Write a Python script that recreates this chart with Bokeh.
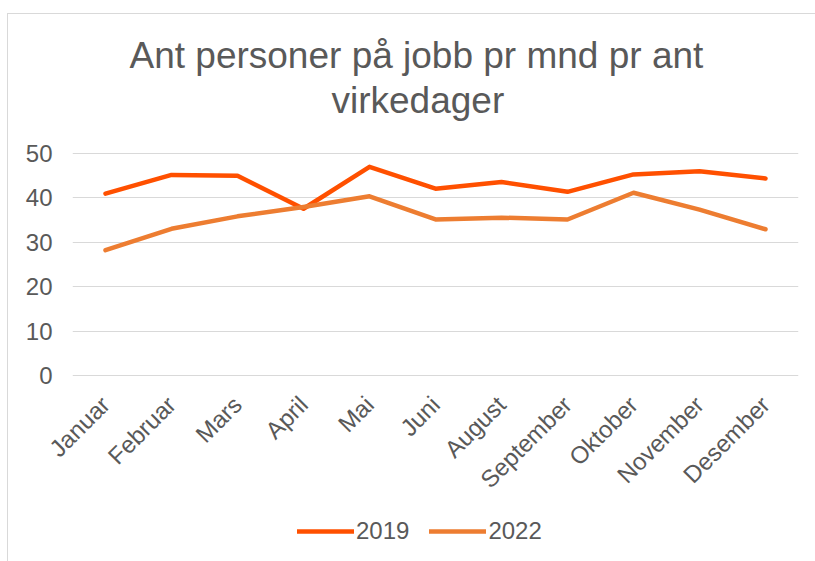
import math
from bokeh.plotting import figure
from bokeh.layouts import column
from bokeh.models import (FactorRange, Range1d, FixedTicker, Legend, LegendItem, Title)
from bokeh.embed import file_html
from bokeh.resources import INLINE

months = ["Januar", "Februar", "Mars", "April", "Mai", "Juni", "August",
          "September", "Oktober", "November", "Desember"]
s2019 = [40.9, 45.1, 44.9, 37.5, 46.9, 42.0, 43.5, 41.3, 45.2, 45.9, 44.3]
s2022 = [28.2, 33.0, 35.8, 37.9, 40.3, 35.1, 35.5, 35.1, 41.1, 37.3, 32.9]
y_ticks = [0, 10, 20, 30, 40, 50]
title_line1 = "Ant personer på jobb pr mnd pr ant"
title_line2 = "virkedager"
series_names = ["2019", "2022"]

FONT = "Liberation Sans"
GREY = "#595959"
C2019 = "#FF5000"
C2022 = "#ED7D31"

p = figure(width=807, height=500, x_range=FactorRange(*months, range_padding=0),
           y_range=Range1d(-0.12, 50.12), title=None, toolbar_location=None,
           output_backend="svg")
p.min_border_left = 64
p.min_border_right = 17
p.min_border_top = 138
p.min_border_bottom = 138
p.outline_line_color = None
p.background_fill_color = "white"
p.border_fill_color = "white"

spacer = Title(text=" ", text_font_size="1px", standoff=28)
t2 = Title(text=title_line2, text_font=FONT, text_font_size="37px", text_color=GREY,
           text_font_style="normal", align="left", offset=259, standoff=2)
t1 = Title(text=title_line1, text_font=FONT, text_font_size="37px", text_color=GREY,
           text_font_style="normal", align="left", offset=57, standoff=2)
p.add_layout(spacer, "above")
p.add_layout(t2, "above")
p.add_layout(t1, "above")

r1 = p.line(months, s2019, line_color=C2019, line_width=4.5, line_cap="round", line_join="round")
r2 = p.line(months, s2022, line_color=C2022, line_width=4.5, line_cap="round", line_join="round")

p.xgrid.grid_line_color = None
p.ygrid.grid_line_color = "#D9D9D9"
p.ygrid.grid_line_width = 1
p.yaxis.ticker = FixedTicker(ticks=y_ticks)

for ax in (p.xaxis[0], p.yaxis[0]):
    ax.axis_line_color = None
    ax.major_tick_line_color = None
    ax.minor_tick_line_color = None
    ax.major_tick_out = 0
    ax.major_tick_in = 0
    ax.minor_tick_out = 0
    ax.major_label_text_font = FONT
    ax.major_label_text_color = GREY
    ax.major_label_text_font_size = "24px"

p.yaxis.major_label_standoff = 20
p.xaxis.major_label_standoff = 24
p.xaxis.major_label_orientation = math.pi / 4

# legend strip below the chart (its series lines lie outside its view range)
q = figure(width=807, height=47, x_range=FactorRange(*months, range_padding=0),
           y_range=Range1d(100, 101),
           toolbar_location=None, output_backend="svg",
           x_axis_location=None, y_axis_location=None, min_border=0)
q.outline_line_color = None
q.grid.visible = False
l1 = q.line(months, s2019, line_color=C2019, line_width=4.5, line_cap="round")
l2 = q.line(months, s2022, line_color=C2022, line_width=4.5, line_cap="round")
legend = Legend(items=[LegendItem(label=series_names[0], renderers=[l1]),
                       LegendItem(label=series_names[1], renderers=[l2])],
                orientation="horizontal", location=(225, 16),
                border_line_color=None, background_fill_alpha=0,
                label_text_font=FONT, label_text_font_size="24px", label_text_color=GREY,
                glyph_width=57, glyph_height=20, label_standoff=2, spacing=20,
                padding=0, margin=0, label_height=20)
q.add_layout(legend, "center")

layout = column(p, q, spacing=0,
                styles={"margin-left": "7px", "margin-top": "13px",
                        "border-left": "1px solid #D9D9D9", "border-top": "1px solid #D9D9D9"})

open("out.html", "w").write(file_html(layout, INLINE))
